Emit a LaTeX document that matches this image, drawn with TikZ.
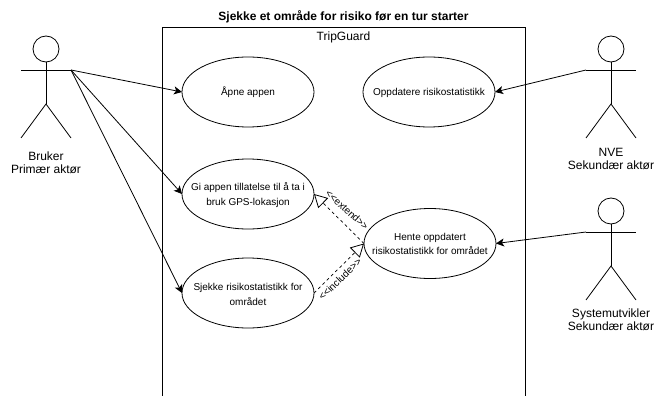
\documentclass[tikz,border=0pt]{standalone}
\usepackage{fontspec}
\setmainfont{Liberation Sans}
\usetikzlibrary{arrows.meta,shapes.geometric}
\tikzset{
  uc/.style={draw,ellipse,minimum width=132pt,minimum height=70pt,inner sep=0pt,outer sep=0pt,font=\fontsize{10}{14.5}\selectfont,line width=.8pt},
  lbl/.style={align=center,font=\fontsize{12}{13.5}\selectfont,inner sep=0pt},
  assoc/.style={line width=.8pt,-{Stealth[length=8pt,width=8pt,inset=2pt]}},
  dep/.style={line width=.7pt,dash pattern=on 3pt off 3pt,-{Triangle[open,fill=white,length=13pt,width=14pt,line width=.8pt,sep=0pt]}},
  stereo/.style={font=\fontsize{10}{11}\selectfont,inner sep=0pt},
  limb/.style={line width=.8pt}
}
\newcommand{\zb}[2][-3.5pt]{\makebox[0pt]{\smash{\raisebox{#1}{$\vcenter{\hbox{\begin{tabular}{@{}c@{}}#2\end{tabular}}}$}}}}
\newcommand{\stick}[3]{%
  \draw[limb] (#1,#2+21) circle (13);
  \draw[limb] (#1,#2+34) -- (#1,#2+76);
  \draw[limb] (#1-25,#2+42) -- (#1+25,#2+42);
  \draw[limb] (#1-25,#2+110) -- (#1,#2+76) -- (#1+25,#2+110);
  \coordinate (#3) at (#1+25,#2+42);
  \coordinate (#3L) at (#1-25,#2+42);
}
\begin{document}
\begin{tikzpicture}[x=1pt,y=-1pt]
\useasboundingbox (0,0) rectangle (654,396);
\begin{scope}
\clip (0,0) rectangle (654,396);
\draw[line width=.9pt] (162,27) rectangle (525,420);
\end{scope}
\node[font=\bfseries\fontsize{12}{14}\selectfont,inner sep=0pt] (title) at (343.5,17) {Sjekke et område for risiko før en tur starter};
\node[font=\fontsize{12}{14}\selectfont,inner sep=0pt] (sys) at (343.5,37) {TripGuard};
\node[uc] (apne) at (248,92) {\zb{Åpne appen}};
\node[uc] (oppd) at (429,92) {\zb{Oppdatere risikostatistikk}};
\node[uc] (gi) at (248,194) {\zb{Gi appen tillatelse til å ta i\\bruk GPS-lokasjon}};
\node[uc] (sj) at (248,293) {\zb[-4.5pt]{Sjekke risikostatistikk for\\området}};
\node[uc] (hente) at (430,243.5) {\zb[-3.5pt]{Hente oppdatert\\risikostatistikk for området}};
\stick{46}{28}{bruker}
\stick{611}{28}{nve}
\stick{611}{190}{sys2}
\node[lbl] (l1) at (46,163) {Bruker\\Primær aktør};
\node[lbl] (l2) at (611,159) {NVE\\Sekundær aktør};
\node[lbl] (l3) at (611,320) {Systemutvikler\\Sekundær aktør};
\draw[assoc] (bruker) -- (apne.west);
\draw[assoc] (bruker) -- (gi.west);
\draw[assoc] (bruker) -- (sj.west);
\draw[assoc] (nveL) -- (oppd.east);
\draw[assoc] (sys2L) -- (hente.east);
\draw[dep] (hente.west) -- (gi.east);
\draw[dep] (sj.east) -- (hente.west);
\node[stereo,rotate=-42] (ext) at (347,210) {<{}<{}extend>{}>};
\node[stereo,rotate=44] (inc) at (340,279) {<{}<{}include>{}>};
\end{tikzpicture}
\end{document}
